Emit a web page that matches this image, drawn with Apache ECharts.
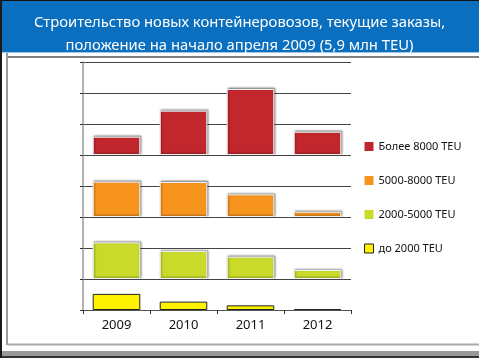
<!DOCTYPE html>
<html>
<head>
<meta charset="utf-8">
<script src="https://cdn.jsdelivr.net/npm/echarts@6/dist/echarts.min.js"></script>
<style>
html,body{margin:0;padding:0;background:#fff;}
#chart{width:479px;height:358px;}
</style>
</head>
<body>
<div id="chart"></div>
<script>
// Data (values in units of one gridline step; no scale is printed in the original)
var categories = ['2009', '2010', '2011', '2012'];
var seriesNames = ['Более 8000 TEU', '5000-8000 TEU', '2000-5000 TEU', 'до 2000 TEU'];
var over8000 = [0.59, 1.43, 2.13, 0.75];
var from5000to8000 = [1.14, 1.13, 0.73, 0.17];
var from2000to5000 = [1.18, 0.90, 0.72, 0.29];
var upTo2000 = [0.52, 0.27, 0.15, 0.03];
// Baselines of the four panels on the shared axis
var panelBase = [5, 3, 1, 0];

var chart = echarts.init(document.getElementById('chart'), null, {renderer: 'canvas'});

function spacer(prevBase, prevVals, nextBase) {
  return prevVals.map(function (v) { return nextBase - prevBase - v; });
}

var shadow = {shadowColor: 'rgba(0,0,0,0.4)', shadowBlur: 2, shadowOffsetX: 1, shadowOffsetY: -1};

var series = [
  {name: seriesNames[3], type: 'bar', stack: 's', data: upTo2000, barCategoryGap: '29%',
   itemStyle: {color: '#fff200', borderColor: '#222', borderWidth: 1}},
  {name: '_s1', type: 'bar', stack: 's', data: spacer(panelBase[3], upTo2000, panelBase[2]),
   itemStyle: {color: 'transparent'}, silent: true},
  {name: seriesNames[2], type: 'bar', stack: 's', data: from2000to5000,
   itemStyle: Object.assign({color: '#c9da2b', borderColor: '#f4f4f4', borderWidth: 1}, shadow)},
  {name: '_s2', type: 'bar', stack: 's', data: spacer(panelBase[2], from2000to5000, panelBase[1]),
   itemStyle: {color: 'transparent'}, silent: true},
  {name: seriesNames[1], type: 'bar', stack: 's', data: from5000to8000,
   itemStyle: Object.assign({color: '#f7941e', borderColor: '#f4f4f4', borderWidth: 1}, shadow)},
  {name: '_s3', type: 'bar', stack: 's', data: spacer(panelBase[1], from5000to8000, panelBase[0]),
   itemStyle: {color: 'transparent'}, silent: true},
  {name: seriesNames[0], type: 'bar', stack: 's', data: over8000,
   itemStyle: Object.assign({color: '#c1272d', borderColor: '#f4f4f4', borderWidth: 1}, shadow)}
];

var option = {
  animation: false,
  backgroundColor: '#fff',
  title: {
    text: 'Строительство новых контейнеровозов, текущие заказы,\nположение на начало апреля 2009 (5,9 млн TEU)',
    left: 'center', top: 6,
    textStyle: {color: '#fff', fontSize: 14.8, fontWeight: 'normal', fontFamily: 'Noto Sans', lineHeight: 23}
  },
  legend: {
    orient: 'vertical', left: 364, top: 140, itemGap: 21, padding: 0,
    itemWidth: 9, itemHeight: 9, icon: 'rect',
    data: [
      {name: seriesNames[0], itemStyle: {color: '#c1272d', borderWidth: 0, shadowBlur: 0}},
      {name: seriesNames[1], itemStyle: {color: '#f7941e', borderWidth: 0, shadowBlur: 0}},
      {name: seriesNames[2], itemStyle: {color: '#c9da2b', borderWidth: 0, shadowBlur: 0}},
      {name: seriesNames[3], itemStyle: {color: '#fff200', borderColor: '#222', borderWidth: 1}}
    ],
    textStyle: {fontSize: 11, color: '#111', fontFamily: 'Noto Sans', lineHeight: 13},
    selectedMode: false
  },
  grid: {left: 83, right: 128, top: 62, bottom: 48},
  xAxis: {
    type: 'category', data: categories,
    axisLine: {lineStyle: {color: '#555', width: 1}},
    axisTick: {show: true, length: 4, lineStyle: {color: '#333'}},
    axisLabel: {fontSize: 13, color: '#111', margin: 9, fontFamily: 'Noto Sans'}
  },
  yAxis: {
    type: 'value', min: 0, max: 8, interval: 1,
    axisLine: {show: true, lineStyle: {color: '#999', width: 1.5}},
    axisTick: {show: true, length: 3, lineStyle: {color: '#333'}},
    axisLabel: {show: false},
    splitLine: {lineStyle: {color: '#444', width: 1}}
  },
  graphic: [
    {type: 'rect', z: -1, shape: {x: 0, y: 0, width: 479, height: 52}, style: {fill: '#0a6fbf'}},
    {type: 'rect', z: -1, shape: {x: 0, y: 0, width: 479, height: 1}, style: {fill: '#111'}},
    {type: 'rect', z: -1, shape: {x: 0, y: 52, width: 479, height: 1}, style: {fill: '#9fc6e6'}},
    {type: 'line', shape: {x1: 7, y1: 57, x2: 479, y2: 57}, style: {stroke: '#555', lineWidth: 1.5}},
    {type: 'line', shape: {x1: 7, y1: 53, x2: 7, y2: 345}, style: {stroke: '#999', lineWidth: 2}},
    {type: 'line', shape: {x1: 7, y1: 344.5, x2: 479, y2: 344.5}, style: {stroke: '#aaa', lineWidth: 2}},
    {type: 'rect', shape: {x: 0, y: 351, width: 479, height: 7}, style: {fill: '#999'}},
    {type: 'rect', shape: {x: 0, y: 356, width: 479, height: 2}, style: {fill: '#333'}},
    {type: 'rect', shape: {x: 0, y: 0, width: 2, height: 358}, style: {fill: '#1a1a1a'}}
  ],
  series: series
};
chart.setOption(option);
</script>
</body>
</html>
